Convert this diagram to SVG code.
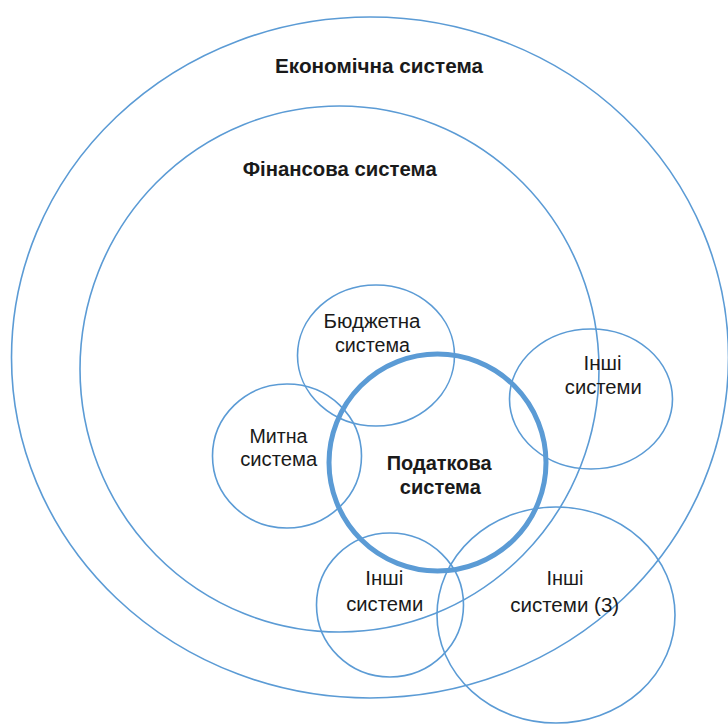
<svg xmlns="http://www.w3.org/2000/svg" width="728" height="724" viewBox="0 0 728 724">
<style>
.c{fill:none;stroke:#5B9BD5;stroke-width:1.6}
.k{fill:none;stroke:#5B9BD5;stroke-width:5}
.t{font-family:"Liberation Sans",Arial,sans-serif;font-size:20px;fill:#1a1a1a;text-anchor:middle}
.b{font-weight:bold}
</style>
<rect width="728" height="724" fill="#ffffff"/>
<g id="economic">
<ellipse class="c" cx="370" cy="357.5" rx="358.5" ry="340.5"/>
<text class="t b" x="379" y="73" textLength="208" lengthAdjust="spacingAndGlyphs">Економічна система</text>
</g>
<g id="financial">
<ellipse class="c" cx="339.5" cy="369" rx="259.5" ry="263"/>
<text class="t b" x="339.7" y="176" textLength="194" lengthAdjust="spacingAndGlyphs">Фінансова система</text>
</g>
<g id="budget">
<ellipse class="c" cx="376" cy="355.5" rx="78.5" ry="70.5"/>
<text class="t" x="372" y="328" textLength="97" lengthAdjust="spacingAndGlyphs">Бюджетна</text>
<text class="t" x="372.5" y="352" textLength="75" lengthAdjust="spacingAndGlyphs">система</text>
</g>
<g id="customs">
<ellipse class="c" cx="287" cy="456" rx="74.5" ry="72"/>
<text class="t" x="278.5" y="443" textLength="58" lengthAdjust="spacingAndGlyphs">Митна</text>
<text class="t" x="278.7" y="466" textLength="77" lengthAdjust="spacingAndGlyphs">система</text>
</g>
<g id="other1">
<ellipse class="c" cx="591" cy="399" rx="81.5" ry="70"/>
<text class="t" x="602.5" y="370" textLength="38" lengthAdjust="spacingAndGlyphs">Інші</text>
<text class="t" x="603.3" y="394" textLength="77" lengthAdjust="spacingAndGlyphs">системи</text>
</g>
<g id="other2">
<ellipse class="c" cx="390" cy="605" rx="73.5" ry="72"/>
<text class="t" x="384.2" y="585" textLength="38" lengthAdjust="spacingAndGlyphs">Інші</text>
<text class="t" x="384.7" y="611" textLength="77" lengthAdjust="spacingAndGlyphs">системи</text>
</g>
<g id="other3">
<ellipse class="c" cx="556" cy="615" rx="119" ry="108"/>
<text class="t" x="565" y="585" textLength="37" lengthAdjust="spacingAndGlyphs">Інші</text>
<text class="t" x="564.7" y="612" textLength="109" lengthAdjust="spacingAndGlyphs">системи (3)</text>
</g>
<g id="tax">
<ellipse class="k" cx="437.5" cy="462.5" rx="108.5" ry="108.5"/>
<text class="t b" x="439.2" y="470" textLength="105" lengthAdjust="spacingAndGlyphs">Податкова</text>
<text class="t b" x="440.3" y="494" textLength="81" lengthAdjust="spacingAndGlyphs">система</text>
</g>
<g id="connectors"/>
</svg>
